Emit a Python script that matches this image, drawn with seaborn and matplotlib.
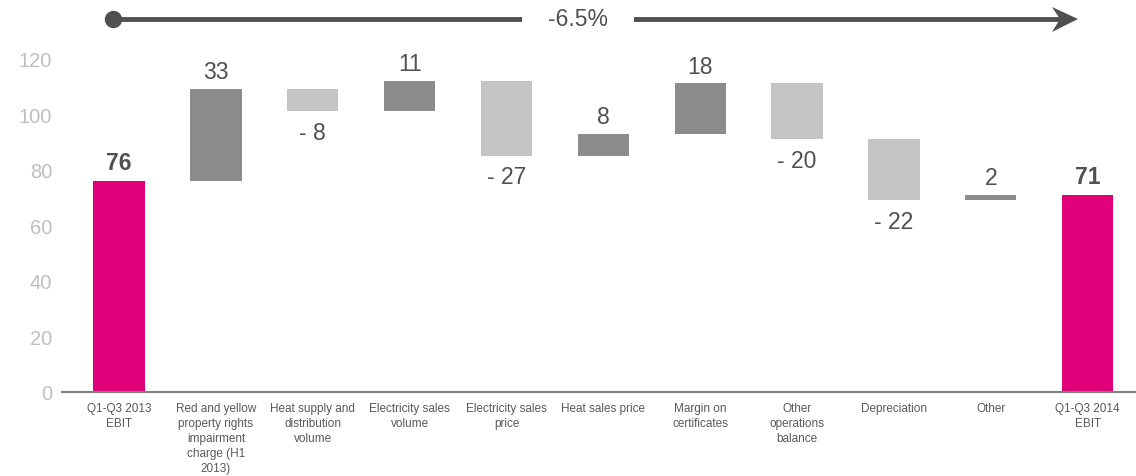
import numpy as np
import pandas as pd
import matplotlib
matplotlib.use("Agg")
import matplotlib.pyplot as plt
from matplotlib.patches import Polygon
import seaborn as sns

# EBIT bridge, Q1-Q3 2013 -> Q1-Q3 2014
categories = [
    "Q1-Q3 2013\nEBIT",
    "Red and yellow\nproperty rights\nimpairment\ncharge (H1\n2013)",
    "Heat supply and\ndistribution\nvolume",
    "Electricity sales\nvolume",
    "Electricity sales\nprice",
    "Heat sales price",
    "Margin on\ncertificates",
    "Other\noperations\nbalance",
    "Depreciation",
    "Other",
    "Q1-Q3 2014\nEBIT",
]
start_value = 76
deltas = [33, -8, 11, -27, 8, 18, -20, -22, 2]
end_value = 71
change_label = "-6.5%"

MAGENTA = "#E2007A"
DARK = "#8C8C8C"
LIGHT = "#C4C4C4"
TEXT = "#505050"

# floating bars: bottom + height
levels = np.cumsum([start_value] + deltas)
bottoms = [0] + [min(levels[i], levels[i + 1]) for i in range(len(deltas))] + [0]
heights = [start_value] + [abs(d) for d in deltas] + [end_value]
colors = [MAGENTA] + [DARK if d > 0 else LIGHT for d in deltas] + [MAGENTA]

df = pd.DataFrame({"pos": range(len(categories)), "height": heights})

sns.set_style("white")
plt.rcParams["font.family"] = ["Liberation Sans", "DejaVu Sans"]

W, H = 1136, 477
fig = plt.figure(figsize=(W / 100, H / 100), dpi=100)
ax = fig.add_axes([62 / W, 1 - 393 / H, 1 - 62 / W, (393 - 40) / H])

sns.barplot(data=df, x="pos", y="height", bottom=bottoms, width=0.53,
            color=DARK, saturation=1, errorbar=None, ax=ax)
for patch, c in zip(ax.patches, colors):
    patch.set_facecolor(c)
    patch.set_edgecolor("none")

# value labels
for i, (b, h) in enumerate(zip(bottoms, heights)):
    if i == 0 or i == len(heights) - 1:
        ax.annotate(str(h), (i, b + h), xytext=(0, 5), textcoords="offset points",
                    ha="center", va="bottom", fontsize=16.5, fontweight="bold", color=TEXT)
    elif deltas[i - 1] > 0:
        ax.annotate(str(h), (i, b + h), xytext=(0, 4), textcoords="offset points",
                    ha="center", va="bottom", fontsize=16.5, color=TEXT)
    else:
        ax.annotate(f"- {h}", (i, b), xytext=(0, -7), textcoords="offset points",
                    ha="center", va="top", fontsize=16.5, color=TEXT)

ax.set_xlim(-0.59, 10.5)
ax.set_ylim(0, 127)
ax.set_yticks(range(0, 121, 20))
ax.set_xticks(range(len(categories)))
ax.set_xticklabels(categories, fontsize=8.5, color="#595959", linespacing=1.35)
ax.tick_params(axis="y", length=0, pad=7, labelsize=14.5, labelcolor="#BFBFBF")
ax.tick_params(axis="x", length=0, pad=7)
ax.set_xlabel("")
ax.set_ylabel("")
for s in ["top", "right", "left"]:
    ax.spines[s].set_visible(False)
ax.spines["bottom"].set_color("#808080")
ax.spines["bottom"].set_linewidth(1.5)

# overall change arrow across the top
y_arr = 1 - 20 / H
fig.add_artist(plt.Line2D([113 / W, 1062 / W], [y_arr, y_arr], lw=3.5,
                          color=TEXT, transform=fig.transFigure))
fig.add_artist(plt.Line2D([113 / W], [y_arr], marker="o", markersize=11.5,
                          color=TEXT, transform=fig.transFigure))
head = [(1078, 20), (1052, 8), (1060, 20), (1052, 33)]
fig.add_artist(Polygon([(x / W, 1 - y / H) for x, y in head], closed=True,
                       facecolor=TEXT, edgecolor="none", transform=fig.transFigure))
fig.text(578 / W, y_arr, change_label, ha="center", va="center", fontsize=16.5,
         color=TEXT, bbox=dict(facecolor="white", edgecolor="none", pad=19))

fig.savefig("out.png", dpi=100)
